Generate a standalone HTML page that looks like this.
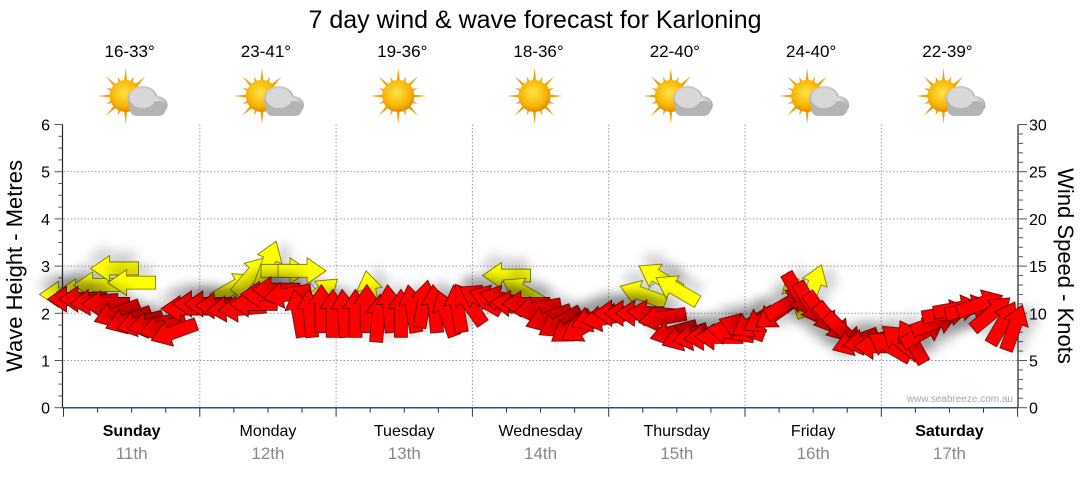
<!DOCTYPE html>
<html><head><meta charset="utf-8">
<style>
html,body{margin:0;padding:0;background:#fff;}
body{width:1080px;height:475px;overflow:hidden;font-family:"Liberation Sans",Arial,sans-serif;}
svg text{font-family:"Liberation Sans",Arial,sans-serif;}
</style></head>
<body>
<svg id="chart" width="1080" height="475" viewBox="0 0 1080 475" xmlns="http://www.w3.org/2000/svg">
<defs>
<filter id="sh" x="-50%" y="-50%" width="200%" height="250%">
<feGaussianBlur in="SourceAlpha" stdDeviation="5" result="b"/>
<feOffset in="b" dx="3" dy="11" result="o"/>
<feFlood flood-color="#000" flood-opacity="0.16"/>
<feComposite in2="o" operator="in" result="s"/>
<feMerge><feMergeNode in="s"/><feMergeNode in="SourceGraphic"/></feMerge>
</filter>
<radialGradient id="sunG" cx="0.45" cy="0.4" r="0.6"><stop offset="0" stop-color="#ffe34a"/><stop offset="0.7" stop-color="#f7b500"/><stop offset="1" stop-color="#e08a00"/></radialGradient>
<radialGradient id="cloudG" cx="0.45" cy="0.35" r="0.7"><stop offset="0" stop-color="#f2f2f2"/><stop offset="1" stop-color="#9a9a9a"/></radialGradient>
</defs>
<text x="535" y="28" font-size="25" text-anchor="middle" fill="#000">7 day wind &amp; wave forecast for Karloning</text>
<g id="grid"></g>
<g id="axes"></g>
<g id="icons"></g>
<g id="waves"></g>
<g id="winds"></g>
<text x="1013" y="402" font-size="10" text-anchor="end" fill="#a0a8b4">www.seabreeze.com.au</text>
<text transform="translate(22,266) rotate(-90)" font-size="22" text-anchor="middle">Wave Height - Metres</text>
<text transform="translate(1058,266) rotate(90)" font-size="22" text-anchor="middle">Wind Speed - Knots</text>
</svg>
<script>
// ---- data ----
const days = ["Sunday","Monday","Tuesday","Wednesday","Thursday","Friday","Saturday"];
const dates = ["11th","12th","13th","14th","15th","16th","17th"];
const boldDays = [true,false,false,false,false,false,true];
const temps = ["16-33°","23-41°","19-36°","18-36°","22-40°","24-40°","22-39°"];
const cloudy = [true,true,false,false,true,true,true];
const leftTicks = [0,1,2,3,4,5,6];
const rightTicks = [0,5,10,15,20,25,30];
// wind every 2 hours from Sunday 00:00
const windSpeed = [
11.5,11.5,11.2,11,10,9.3,9,8.8,8.5,8,10.5,11,
11,10.8,10.5,10.5,11,12,12.5,12,10,10,10.5,10,
10,10,10.5,9.5,10.5,10,10.5,11,10.5,10,10.5,11,
11.5,11.5,11.5,11,11,10.5,9.5,9,8.5,8.5,9.5,9.5,
10,10,10,10,9.5,8,7.5,7.5,7.5,7.5,8,8.5,
9,9.5,10,11,12,11,10,9,8,7,7,6.5,
6.5,7,7,8,9,10,10.5,10.5,11,10,9,8.5];
const windDir = [
180,180,185,180,200,200,195,190,195,200,180,180,
180,180,185,185,180,180,180,190,100,95,90,90,
95,90,90,85,95,90,100,80,95,110,100,125,
150,160,165,175,180,190,200,210,215,210,200,190,
180,180,180,175,190,195,200,190,185,180,170,160,
210,210,215,30,-60,-60,-55,-50,-45,200,190,180,
150,140,120,30,20,10,10,15,20,40,60,70];
const waveHours = [0,3,6,9,12,30,33,36,39,42,45,54,78,81,102,105,108,129,132];
const waveHeight = [2.4,2.45,2.6,2.95,2.65,2.55,2.8,3.05,2.9,2.9,2.4,2.4,2.8,2.45,2.4,2.75,2.5,2.4,2.55];
const waveDir = [180,180,180,180,180,30,50,70,0,0,40,100,180,150,160,150,150,110,70];

// ---- scales ----
const X0=63.5, DAYW=136.3, Y0=407.7, PXM=47.2, PXK=9.44;
const xT = h => X0 + h/24*DAYW;
const yM = m => Y0 - m*PXM;
const yK = k => Y0 - k*PXK;
const NS="http://www.w3.org/2000/svg";
function mk(tag, attrs, parent){const e=document.createElementNS(NS,tag);for(const k in attrs)e.setAttribute(k,attrs[k]);parent.appendChild(e);return e;}

const grid=document.getElementById('grid'), axes=document.getElementById('axes'), icons=document.getElementById('icons');
for(let m=1;m<=5;m++){
  const l=mk('line',{x1:X0,x2:1018,y1:yM(m),y2:yM(m),stroke:'#999','stroke-width':1,'stroke-dasharray':'1.5,2'},grid);
  
  
}
for(let d=1;d<7;d++){
  const l=mk('line',{x1:X0+d*DAYW,x2:X0+d*DAYW,y1:yM(6),y2:Y0,stroke:'#999','stroke-width':1,'stroke-dasharray':'1.5,2'},grid);
  
  
}
mk('line',{x1:X0-1,x2:X0-1,y1:yM(6),y2:Y0,stroke:'#222','stroke-width':1.2},axes);
mk('line',{x1:1018,x2:1018,y1:yM(6),y2:Y0,stroke:'#222','stroke-width':1.2},axes);
const bx=mk('line',{x1:X0-1,x2:1018,y1:Y0,y2:Y0,stroke:'#1d5a85','stroke-width':1.5},axes);


for(let i=0;i<=24;i++){const y=yM(i*0.25);mk('line',{x1:X0-(i%4?5:9),x2:X0-1,y1:y,y2:y,stroke:'#555','stroke-width':1},axes);}
leftTicks.forEach(v=>{
  const t=mk('text',{x:50,y:yM(v)+6,'font-size':16,'text-anchor':'end',fill:'#000'},axes);t.textContent=v;
  
  
});
for(let k=0;k<=30;k++){const y=yK(k);mk('line',{x1:1018,x2:1018+(k%5?5:9),y1:y,y2:y,stroke:'#555','stroke-width':1},axes);}
rightTicks.forEach(v=>{
  const t=mk('text',{x:1029,y:yK(v)+6,'font-size':16,'text-anchor':'start',fill:'#000'},axes);t.textContent=v;
  
  
});
for(let q=0;q<=28;q++){const x=X0+q*DAYW/4;mk('line',{x1:x,x2:x,y1:Y0,y2:Y0+(q%4?5:9),stroke:'#333','stroke-width':1},axes);}
days.forEach((d,i)=>{
  const cx=X0+(i+0.5)*DAYW;
  const t=mk('text',{x:cx,y:436,'font-size':16,'text-anchor':'middle','font-weight':boldDays[i]?'bold':'normal',fill:'#000'},axes);t.textContent=d;
  
  
  const t2=mk('text',{x:cx,y:459,'font-size':17,'text-anchor':'middle',fill:'#888'},axes);t2.textContent=dates[i];
  
  
  const tt=mk('text',{x:cx-2,y:57,'font-size':17,'text-anchor':'middle',fill:'#000'},icons);tt.textContent=temps[i];
  
  
  const g=mk('g',{transform:`translate(${cx-6},96)`},icons);
  
  
  for(let r=0;r<16;r++){const a=r*Math.PI/8, L=(r%2?21:28);
    mk('polygon',{points:`${Math.cos(a-0.12)*14},${Math.sin(a-0.12)*14} ${Math.cos(a)*L},${Math.sin(a)*L} ${Math.cos(a+0.12)*14},${Math.sin(a+0.12)*14}`,fill:'#f0a010'},g);}
  mk('circle',{cx:0,cy:0,r:16,fill:'url(#sunG)'},g);
  if(cloudy[i]){
    const c=mk('g',{},g);
    mk('ellipse',{cx:17,cy:3,rx:15,ry:13,fill:'url(#cloudG)'},c);
    mk('ellipse',{cx:31,cy:9,rx:11,ry:9,fill:'url(#cloudG)'},c);
    mk('rect',{x:4,y:5,width:36,height:15,rx:7,fill:'#b4b4b4'},c);
    mk('ellipse',{cx:17,cy:2,rx:13,ry:10,fill:'#d8d8d8'},c);
  }
});
const ARROW="M-24,-6.5 L5,-6.5 L5,-13 L24,0 L5,13 L5,6.5 L-24,6.5 Z";
const wv=document.getElementById('waves');
for(let i=1;i<waveHours.length;i++){
  if(waveHours[i]-waveHours[i-1]<=3){
    mk('line',{x1:xT(waveHours[i-1]),y1:yM(waveHeight[i-1]),x2:xT(waveHours[i]),y2:yM(waveHeight[i]),stroke:'#aaa','stroke-width':1},wv);
  }
}
waveHours.forEach((h,i)=>{
  const p=mk('path',{d:ARROW,fill:'#ffff00',stroke:'#6b6b00','stroke-width':0.8,filter:'url(#sh)',transform:`translate(${xT(h)},${yM(waveHeight[i])}) rotate(${-waveDir[i]})`},wv);
  
  
});
const wd=document.getElementById('winds');
windSpeed.forEach((s,i)=>{
  const p=mk('path',{d:ARROW,fill:'#ff0000',stroke:'#5a0000','stroke-width':0.8,filter:'url(#sh)',transform:`translate(${xT(i*2)+8},${yK(s)}) rotate(${-windDir[i]})`},wd);
  
  
});
</script>
</body></html>
